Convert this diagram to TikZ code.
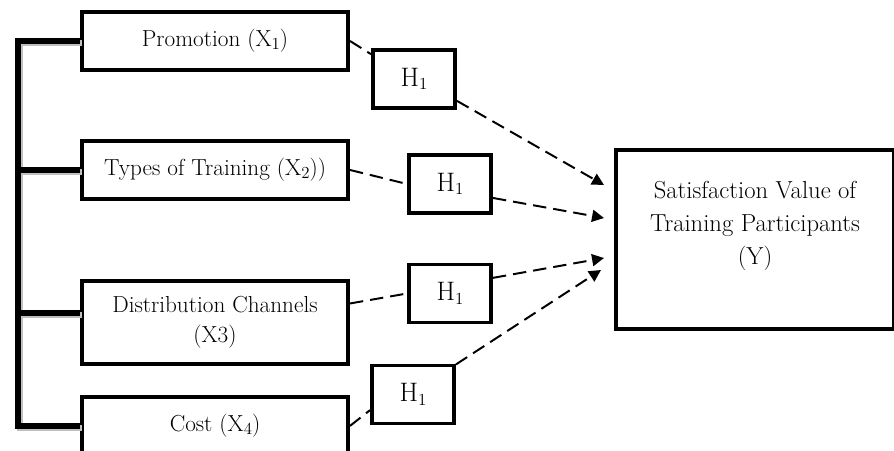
\documentclass[tikz,border=0pt]{standalone}
\usetikzlibrary{arrows.meta, positioning, calc}
\newcommand{\idx}[1]{\raisebox{-0.3ex}{\fontsize{12}{12}\selectfont #1}}

\begin{document}
\begin{tikzpicture}[x=0.025cm, y=-0.025cm,
    var/.style={rectangle, draw, line width=2.8pt, minimum width=6.65cm, minimum height=1.45cm,
                align=center, font=\fontsize{16.5}{21.5}\selectfont},
    hyp/.style={var, minimum width=2.05cm, font=\fontsize{19}{21.5}\selectfont},
    link/.style={line width=1.4pt, dash pattern=on 9.5pt off 5pt},
    bracket/.style={line width=4pt}
]
\useasboundingbox (0,0) rectangle (894,451);

\node[var] (promo) at (215,41) {Promotion (X\idx{1})};
\node[var, below=1.675cm of promo] (types) {Types of Training (X\idx{2}))};
\node[var, below=1.95cm of types, minimum height=2.075cm] (dist) {Distribution Channels\\(X3)};
\node[var, below=0.725cm of dist] (cost) {Cost (X\idx{4})};

\node[hyp] (h1a) at (414,79) {H\idx{1}};
\node[hyp] (h1b) at (450,184) {H\idx{1}};
\node[hyp] (h1c) at (450,293.5) {H\idx{1}};
\node[hyp] (h1d) at (413,394.5) {H\idx{1}};

\node[var, minimum width=6.95cm, minimum height=4.475cm, font=\fontsize{17.5}{23.5}\selectfont] (ybox) at (755,239.5)
    {Satisfaction Value of\\Training Participants\\(Y)\\\mbox{}};

% left bracket with its grey shadow
\coordinate (spine) at (18,0);
\foreach \col/\dx in {gray!50/1.5pt, black/0pt}{
  \draw[bracket, draw=\col, transform canvas={shift={(\dx,-\dx)}}]
    (promo.west) -- (promo.west -| spine) -- (cost.west -| spine) -- (cost.west);
  \draw[bracket, draw=\col, transform canvas={shift={(\dx,-\dx)}}] (types.west) -- (types.west -| spine);
  \draw[bracket, draw=\col, transform canvas={shift={(\dx,-\dx)}}] (dist.176) -- (dist.176 -| spine);
}

% hypotheses
\draw[link] (promo.east) -- (h1a.150);
\draw[link] (types.east) -- (h1b.west);
\draw[link] (dist.8) -- (h1c.west);
\draw[link] (cost.east) -- (h1d.200);

\coordinate (in1) at ($(ybox.north west)+(-10,37)$);
\coordinate (in2) at ($(ybox.north west)+(-10,70)$);
\coordinate (in3) at ($(ybox.north west)+(-10,110)$);
\coordinate (in4) at ($(ybox.north west)+(-13,122)$);

\draw[link, -{Triangle[length=8.5pt,width=8.5pt]}] (h1a.-27) -- (in1);
\draw[link, -{Triangle[length=8.5pt,width=8.5pt]}] (h1b.-18) -- (in2);
\draw[link, -{Triangle[length=8.5pt,width=8.5pt]}] (h1c.20) -- (in3);
\draw[link, -{Triangle[length=8.5pt,width=8.5pt]}] (h1d.35) -- (in4);
\end{tikzpicture}
\end{document}
